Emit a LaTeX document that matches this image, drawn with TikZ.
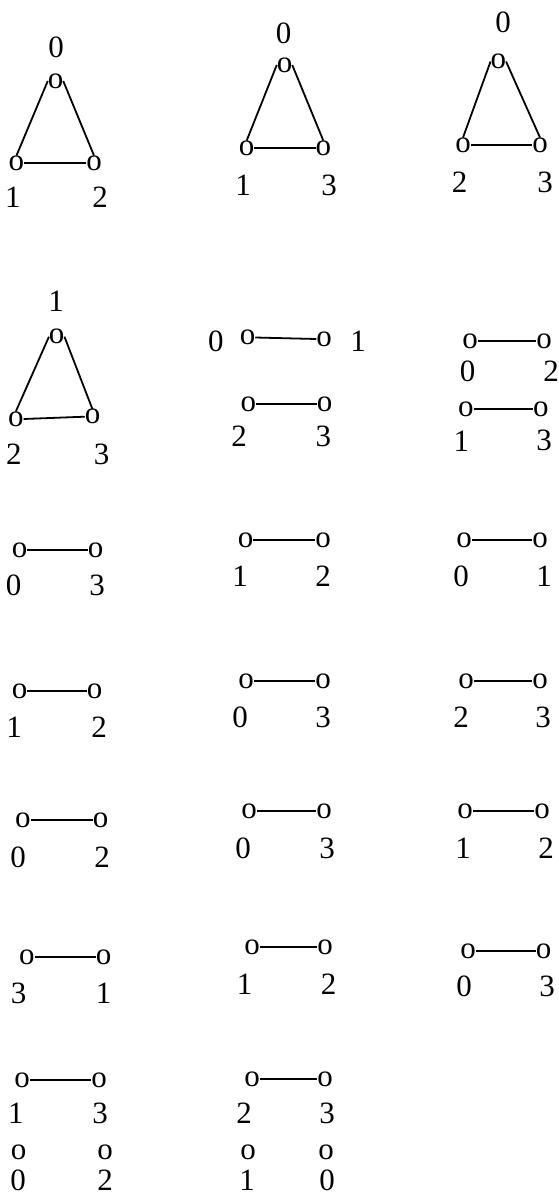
\documentclass[tikz,border=0pt]{standalone}
\usepackage{fontspec}
\setmainfont{Liberation Serif}
\begin{document}
\begin{tikzpicture}[x=1pt,y=-1pt,
  vtx/.style={inner sep=0pt,outer sep=0pt,font=\fontsize{31}{31}\selectfont},
  lbl/.style={inner sep=0pt,outer sep=0pt,font=\fontsize{31}{31}\selectfont},
  edge/.style={line width=1.8pt,black}]
\useasboundingbox (0,0) rectangle (559,1196);
% ---------- Row 1 ----------
% triangle A
\node[lbl] (lA0) at (56,47) {0};
\node[vtx] (tA) at (55.5,81) {o};
\node[vtx] (aA1) at (16.5,163) {o};
\node[vtx] (aA2) at (94,163) {o};
\node[lbl] (lA1) at (13,197) {1};
\node[lbl] (lA2) at (100,197) {2};
\draw[edge] (tA.west) -- (aA1.north);
\draw[edge] (tA.east) -- (aA2.north);
\draw[edge] (aA1.east) -- (aA2.west);
% triangle B
\node[lbl] (lB0) at (283.5,33) {0};
\node[vtx] (tB) at (284.5,65) {o};
\node[vtx] (aB1) at (246.7,148) {o};
\node[vtx] (aB3) at (323.3,148) {o};
\node[lbl] (lB1) at (243,185) {1};
\node[lbl] (lB3) at (329,185) {3};
\draw[edge] (tB.west) -- (aB1.north);
\draw[edge] (tB.east) -- (aB3.north);
\draw[edge] (aB1.east) -- (aB3.west);
% triangle C
\node[lbl] (lC0) at (503,22) {0};
\node[vtx] (tC) at (498.3,61.5) {o};
\node[vtx] (aC2) at (463,145) {o};
\node[vtx] (aC3) at (540,145) {o};
\node[lbl] (lC2) at (459.5,182.5) {2};
\node[lbl] (lC3) at (545,182.5) {3};
\draw[edge] (tC.west) -- (aC2.north);
\draw[edge] (tC.east) -- (aC3.north);
\draw[edge] (aC2.east) -- (aC3.west);
% ---------- Row 2 ----------
% triangle D
\node[lbl] (lD1) at (56,301) {1};
\node[vtx] (tD) at (56.7,336.7) {o};
\node[vtx] (aD2) at (15.8,419) {o};
\node[vtx] (aD3) at (92.5,416.7) {o};
\node[lbl] (lD2) at (13.8,454) {2};
\node[lbl] (lD3) at (101.7,454) {3};
\draw[edge] (tD.west) -- (aD2.north);
\draw[edge] (tD.east) -- (aD3.north);
\draw[edge] (aD2.east) -- (aD3.west);
% two edges, middle
\node[lbl] (lE0) at (215.8,341) {0};
\node[vtx] (e0) at (247.5,337.5) {o};
\node[vtx] (e1) at (324,339) {o};
\node[lbl] (lE1) at (358,341) {1};
\draw[edge] (e0.east) -- (e1.west);
\node[vtx] (e2) at (248.3,404) {o};
\node[vtx] (e3) at (324.7,404) {o};
\node[lbl] (lE2) at (239,436.7) {2};
\node[lbl] (lE3) at (323.3,436.7) {3};
\draw[edge] (e2.east) -- (e3.west);
% two edges, right
\node[vtx] (f0) at (470,341.3) {o};
\node[vtx] (f2) at (544.2,341.3) {o};
\node[lbl] (lF0) at (467.5,371.7) {0};
\node[lbl] (lF2) at (551,371.7) {2};
\draw[edge] (f0.east) -- (f2.west);
\node[vtx] (f1) at (465.8,409) {o};
\node[vtx] (f3) at (540.8,409) {o};
\node[lbl] (lF1) at (461.3,440.8) {1};
\node[lbl] (lF3) at (544.2,440.8) {3};
\draw[edge] (f1.east) -- (f3.west);
% ---------- Row 3 ----------
\node[vtx] (g1a) at (19.6,550) {o};
\node[vtx] (g1b) at (95.7,550) {o};
\node[lbl] (lg1a) at (13.6,585) {0};
\node[lbl] (lg1b) at (97,585) {3};
\draw[edge] (g1a.east) -- (g1b.west);
\node[vtx] (g2a) at (245.7,540) {o};
\node[vtx] (g2b) at (323,540) {o};
\node[lbl] (lg2a) at (240,576) {1};
\node[lbl] (lg2b) at (323,576) {2};
\draw[edge] (g2a.east) -- (g2b.west);
\node[vtx] (g3a) at (464,540) {o};
\node[vtx] (g3b) at (540,540) {o};
\node[lbl] (lg3a) at (461,576) {0};
\node[lbl] (lg3b) at (544,576) {1};
\draw[edge] (g3a.east) -- (g3b.west);
% ---------- Row 4 ----------
\node[vtx] (h1a) at (19.6,691) {o};
\node[vtx] (h1b) at (94.6,691) {o};
\node[lbl] (lh1a) at (14,727) {1};
\node[lbl] (lh1b) at (99,727) {2};
\draw[edge] (h1a.east) -- (h1b.west);
\node[vtx] (h2a) at (246,681) {o};
\node[vtx] (h2b) at (323,681) {o};
\node[lbl] (lh2a) at (240,717) {0};
\node[lbl] (lh2b) at (323,717) {3};
\draw[edge] (h2a.east) -- (h2b.west);
\node[vtx] (h3a) at (466,681) {o};
\node[vtx] (h3b) at (540,681) {o};
\node[lbl] (lh3a) at (461,717) {2};
\node[lbl] (lh3b) at (543,717) {3};
\draw[edge] (h3a.east) -- (h3b.west);
% ---------- Row 5 ----------
\node[vtx] (i1a) at (23,820) {o};
\node[vtx] (i1b) at (100.7,820) {o};
\node[lbl] (li1a) at (18,857) {0};
\node[lbl] (li1b) at (102,857) {2};
\draw[edge] (i1a.east) -- (i1b.west);
\node[vtx] (i2a) at (249,811) {o};
\node[vtx] (i2b) at (324,811) {o};
\node[lbl] (li2a) at (243,848) {0};
\node[lbl] (li2b) at (327,848) {3};
\draw[edge] (i2a.east) -- (i2b.west);
\node[vtx] (i3a) at (465,811) {o};
\node[vtx] (i3b) at (542,811) {o};
\node[lbl] (li3a) at (463,848) {1};
\node[lbl] (li3b) at (546,848) {2};
\draw[edge] (i3a.east) -- (i3b.west);
% ---------- Row 6 ----------
\node[vtx] (j1a) at (27,957) {o};
\node[vtx] (j1b) at (103.6,957) {o};
\node[lbl] (lj1a) at (18.6,993) {3};
\node[lbl] (lj1b) at (103.6,993) {1};
\draw[edge] (j1a.east) -- (j1b.west);
\node[vtx] (j2a) at (252,947) {o};
\node[vtx] (j2b) at (325,947) {o};
\node[lbl] (lj2a) at (244.6,984) {1};
\node[lbl] (lj2b) at (328.6,984) {2};
\draw[edge] (j2a.east) -- (j2b.west);
\node[vtx] (j3a) at (468,951) {o};
\node[vtx] (j3b) at (543.6,951) {o};
\node[lbl] (lj3a) at (464,986) {0};
\node[lbl] (lj3b) at (547,986) {3};
\draw[edge] (j3a.east) -- (j3b.west);
% ---------- Row 7 ----------
\node[vtx] (k1a) at (22,1080) {o};
\node[vtx] (k1b) at (99,1080) {o};
\node[lbl] (lk1a) at (16,1113) {1};
\node[lbl] (lk1b) at (100,1113) {3};
\draw[edge] (k1a.east) -- (k1b.west);
\node[vtx] (k2a) at (252,1079) {o};
\node[vtx] (k2b) at (325,1079) {o};
\node[lbl] (lk2a) at (244,1113) {2};
\node[lbl] (lk2b) at (327,1113) {3};
\draw[edge] (k2a.east) -- (k2b.west);
% isolated vertices
\node[vtx] (m0) at (18.6,1152) {o};
\node[vtx] (m2) at (105,1152) {o};
\node[vtx] (m1) at (248,1152) {o};
\node[vtx] (m0b) at (326,1152) {o};
\node[lbl] (lm0) at (18,1180) {0};
\node[lbl] (lm2) at (105,1180) {2};
\node[lbl] (lm1) at (247,1180) {1};
\node[lbl] (lm0b) at (327,1180) {0};
\end{tikzpicture}
\end{document}
